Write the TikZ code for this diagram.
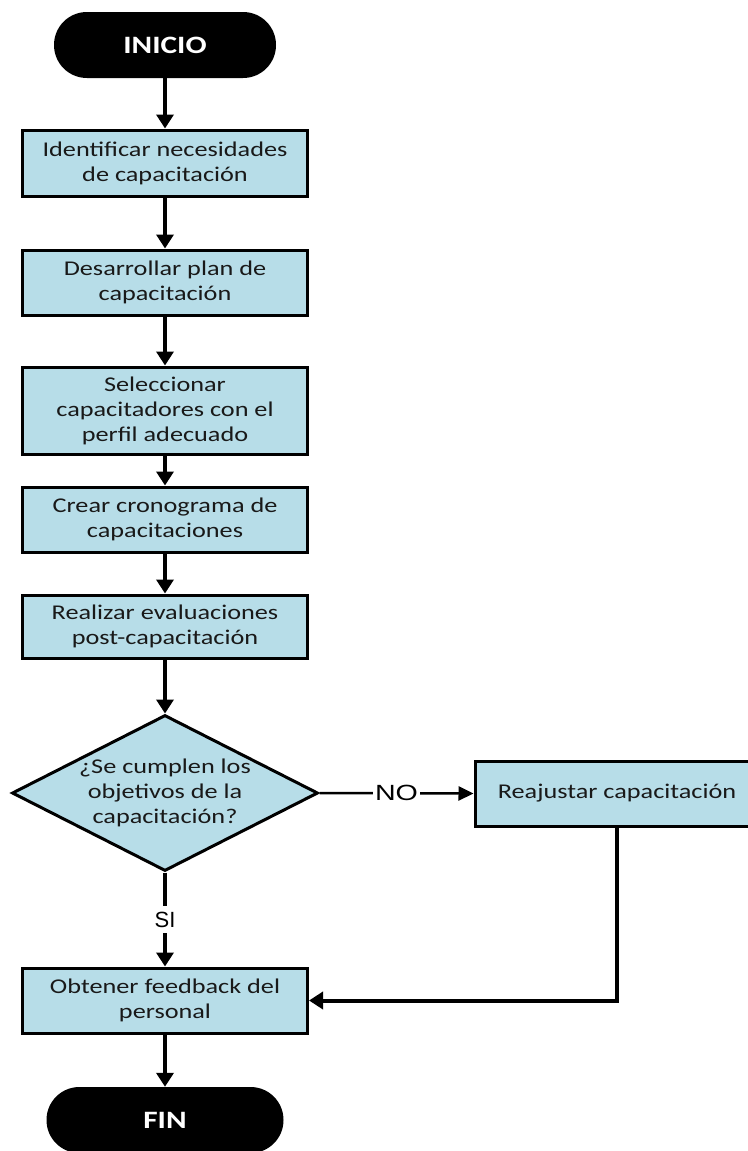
\documentclass[tikz,border=0pt]{standalone}
\usepackage{fontspec}
\setmainfont{Carlito}[FakeStretch=1.25]
\newfontfamily\labfont{Liberation Sans}
\newfontfamily\labwide{Liberation Sans}[FakeStretch=1.3]
\usetikzlibrary{arrows.meta,shapes.geometric}
\definecolor{boxblue}{RGB}{183,221,232}
\definecolor{textcol}{RGB}{25,25,25}
\begin{document}
\begin{tikzpicture}[x=1pt,y=1pt,
  box/.style={draw=black, line width=3pt, fill=boxblue, minimum width=285pt, inner sep=0pt, align=center, text=textcol, font=\fontsize{21}{25}\selectfont},
  term/.style={fill=black, rounded corners=32.9pt, minimum height=66pt, text=white, inner sep=0pt, font=\fontsize{25}{28}\selectfont\bfseries},
  arr/.style={line width=4pt, -{Triangle[width=17pt,length=14pt]}},
  thinarr/.style={line width=2.5pt, -{Triangle[width=14pt,length=15pt]}},
  lab/.style={fill=white, inner xsep=2pt, inner ysep=6pt, text=black},
]
\useasboundingbox (0,0) rectangle (747,-1151);
\node[term, minimum width=222pt] (inicio) at (165,-45) {INICIO};
\node[box, minimum height=66pt] (b1) at (165,-163) {Identificar necesidades\\de capacitación};
\node[box, minimum height=65pt] (b2) at (165,-282.5) {Desarrollar plan de\\capacitación};
\node[box, minimum height=87pt] (b3) at (165,-410.5) {Seleccionar\\capacitadores con el\\perfil adecuado};
\node[box, minimum height=65pt] (b4) at (165,-519.5) {Crear cronograma de\\capacitaciones};
\node[box, minimum height=63pt] (b5) at (165,-626.5) {Realizar evaluaciones\\post-capacitación};
\node[diamond, draw=black, line width=3pt, fill=boxblue, minimum width=306pt, minimum height=156pt, inner sep=0pt] (dec) at (165,-793) {};
\node[align=center, text=textcol, font=\fontsize{21}{25}\selectfont] (dectext) at (dec.center) {¿Se cumplen los\\objetivos de la\\capacitación?};
\node[box, minimum width=284pt, minimum height=65pt] (reaj) at (617,-793.5) {Reajustar capacitación};
\node[box, minimum height=65pt] (b6) at (165,-1000.5) {Obtener feedback del\\personal};
\node[term, minimum width=237pt] (fin) at (165,-1120) {FIN};

\draw[arr] (inicio) -- (b1);
\draw[arr] (b1) -- (b2);
\draw[arr] (b2) -- (b3);
\draw[arr] (b3) -- (b4);
\draw[arr] (b4) -- (b5);
\draw[arr] (b5) -- (dec.north);
\draw[thinarr] (dec.east) -- node[lab, font=\labwide\fontsize{22}{26}\selectfont] {NO} (reaj.west);
\draw[arr] (dec.south) -- node[lab, pos=0.5, font=\labfont\fontsize{22}{26}\selectfont] {SI} (b6.north);
\draw[arr] (reaj.south) -- (reaj.south |- b6.east) -- (b6.east);
\draw[arr] (b6) -- (fin);
\end{tikzpicture}
\end{document}
